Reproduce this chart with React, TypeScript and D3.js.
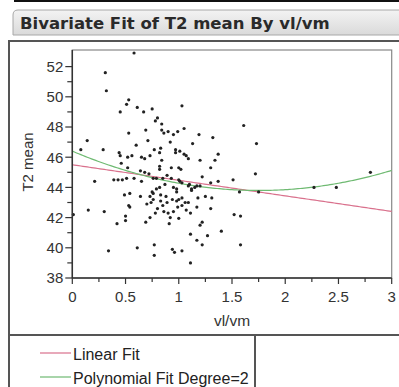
import * as d3 from "d3"

// values
const vlvm = [
  0.58, 0.31, 0.32, 0.53, 0.51, 0.61, 0.75, 0.67, 0.45, 1.03, 0.80, 0.78, 0.84, 1.61, 1.05, 0.84, 0.86, 0.69, 0.53, 0.90,
  0.95, 0.99, 1.19, 1.32, 0.14, 0.71, 0.60, 0.92, 1.13, 1.73, 0.77, 0.83, 0.82, 0.08, 0.29, 0.44, 0.45, 0.52, 0.56, 0.65,
  0.68, 0.73, 0.84, 0.97, 1.01, 1.05, 1.07, 1.09, 0.97, 1.37, 1.20, 1.34, 1.30, 0.46, 0.52, 0.82, 0.82, 0.93, 1.00, 1.02,
  0.64, 0.68, 0.72, 0.89, 1.22, 1.30, 1.37, 1.51, 1.72, 0.39, 0.43, 0.47, 0.51, 0.58, 0.65, 0.76, 0.79, 0.85, 0.93, 1.00,
  0.21, 1.03, 1.10, 1.17, 0.87, 0.95, 0.79, 0.82, 0.98, 1.09, 1.12, 1.15, 1.20, 1.12, 1.57, 1.75, 2.27, 2.48, 2.80, 0.98,
  0.49, 0.54, 0.64, 0.73, 0.76, 0.83, 0.88, 0.75, 0.94, 0.83, 0.76, 0.70, 0.98, 1.03, 1.00, 1.06, 1.09, 1.18, 1.25, 1.31,
  0.53, 0.54, 0.74, 0.80, 0.85, 0.89, 0.86, 0.90, 0.95, 0.99, 1.03, 1.07, 1.17, 1.11, 1.30, 1.52, 1.58, 0.01, 0.15, 0.30,
  0.42, 0.50, 0.50, 0.69, 0.73, 0.78, 0.92, 0.91, 1.00, 1.20, 1.22, 1.11, 1.27, 1.40, 1.17, 1.22, 1.58, 0.34, 0.61, 0.77,
  0.77, 0.94, 0.96, 1.03, 1.11, 1.01,
]
const t2mean = [
  52.9, 51.6, 50.4, 49.8, 49.5, 49.3, 49.2, 49.0, 49.0, 49.4, 48.6, 48.4, 48.2, 48.1, 47.9, 47.8, 47.6, 47.8, 47.6, 47.7,
  47.5, 47.7, 47.5, 47.3, 47.1, 47.1, 46.8, 47.0, 46.9, 46.9, 46.5, 46.6, 46.3, 46.5, 46.5, 46.3, 46.1, 46.0, 46.1, 46.0,
  45.9, 46.1, 45.8, 46.3, 46.4, 46.2, 46.1, 45.9, 46.5, 46.2, 45.8, 45.8, 45.3, 45.6, 45.3, 45.4, 45.2, 45.3, 45.3, 45.2,
  45.1, 45.0, 44.9, 44.8, 44.7, 44.3, 44.4, 44.5, 44.9, 44.5, 44.5, 44.5, 44.6, 44.6, 44.4, 44.6, 44.6, 44.6, 44.6, 44.5,
  44.4, 44.3, 44.2, 44.1, 44.2, 44.0, 43.9, 44.0, 43.9, 44.1, 43.9, 44.0, 44.1, 43.8, 43.7, 43.7, 44.0, 44.0, 45.0, 43.7,
  43.5, 43.6, 43.4, 43.4, 43.6, 43.5, 43.4, 43.7, 43.2, 43.1, 43.2, 42.9, 43.1, 43.3, 43.2, 43.0, 43.0, 43.3, 43.4, 43.3,
  42.8, 42.7, 43.0, 42.6, 42.8, 43.0, 42.4, 42.3, 42.4, 42.7, 42.8, 42.5, 42.7, 42.3, 42.6, 42.2, 42.1, 42.2, 42.5, 42.4,
  41.6, 42.1, 41.8, 41.7, 42.0, 42.3, 42.0, 41.6, 41.95, 41.5, 41.7, 40.9, 40.8, 41.1, 40.5, 40.2, 40.2, 39.8, 40.0, 40.2,
  39.5, 39.9, 39.7, 39.8, 39.0, 44.4,
]

const xTicks = [0, 0.5, 1, 1.5, 2, 2.5, 3]
const xTickLabels = ["0", "0.5", "1", "1.5", "2", "2.5", "3"]
const yTicks = [38, 40, 42, 44, 46, 48, 50, 52]

// fitted curves (coefficients)
const linearFit = [45.5, -1.03]
const polyFit = [46.4, -2.975, 0.85]

const legendItems = [
  { label: "Linear Fit", color: "#d9708c" },
  { label: "Polynomial Fit Degree=2", color: "#6fba72" },
]

const W = 399
const H = 387
const font = "'Liberation Sans', Arial, sans-serif"

export default function App() {
  const x = d3.scaleLinear().domain([0, 3]).range([72.3, 391.7])
  const y = d3.scaleLinear().domain([38, 53.1]).range([278, 50])

  const xMinor = d3.range(0.25, 3, 0.5)
  const yMinor = d3.range(39, 53, 2)

  const grid = d3.range(0, 3.001, 0.02)
  const linPath = d3.line<number>()
    .x(d => x(d))
    .y(d => y(linearFit[0] + linearFit[1] * d))(grid) || ""
  const polyPath = d3.line<number>()
    .x(d => x(d))
    .y(d => y(polyFit[0] + polyFit[1] * d + polyFit[2] * d * d))(grid) || ""

  return (
    <svg width={W} height={H} style={{ position: "absolute", left: 0, top: 0, background: "#fff" }}>
      <defs>
        <linearGradient id="hdr" x1="0" y1="0" x2="0" y2="1">
          <stop offset="0" stopColor="#f3f3f3" />
          <stop offset="1" stopColor="#dadada" />
        </linearGradient>
      </defs>

      {/* top strip */}
      <rect x={14} y={0} width={W} height={2} fill="#111" />

      {/* header */}
      <path d={`M${W + 2},10 H18 Q13,10 13,15 V35 H${W + 2}`} fill="url(#hdr)" stroke="#a8a8a8" />
      <text x={20} y={29} fontFamily="'DejaVu Sans', Verdana, sans-serif" fontWeight="bold" fontSize={16.5} fill="#2a2a2a">
        Bivariate Fit of T2 mean By vl/vm
      </text>

      {/* outer panel */}
      <path d={`M9,${H} V41 H${W + 2}`} fill="none" stroke="#555" strokeWidth={2} />
      <line x1={9} x2={W} y1={335} y2={335} stroke="#555" strokeWidth={2} />
      <line x1={255} x2={255} y1={335} y2={H} stroke="#555" strokeWidth={2} />

      {/* plot frame */}
      <rect x={x(0)} y={y(53.1)} width={x(3) - x(0)} height={y(38) - y(53.1)} fill="#fff" stroke="#888" strokeWidth={1.2} />

      {/* fit curves */}
      <path d={linPath} fill="none" stroke={legendItems[0].color} strokeWidth={1.2} />
      <path d={polyPath} fill="none" stroke={legendItems[1].color} strokeWidth={1.2} />

      {/* points */}
      {vlvm.map((v, i) => (
        <circle key={i} cx={x(v)} cy={y(t2mean[i])} r={1.6} fill="#222" />
      ))}

      {/* y axis */}
      <line x1={x(0)} x2={x(0)} y1={y(53.1)} y2={y(38)} stroke="#333" strokeWidth={1.5} />
      {yTicks.map(t => (
        <g key={t}>
          <line x1={x(0) - 7} x2={x(0)} y1={y(t)} y2={y(t)} stroke="#333" strokeWidth={1.2} />
          <text x={x(0) - 9} y={y(t)} dy="0.36em" textAnchor="end" fontFamily={font} fontSize={15} fill="#333">{t}</text>
        </g>
      ))}
      {yMinor.map(t => (
        <line key={t} x1={x(0) - 5} x2={x(0)} y1={y(t)} y2={y(t)} stroke="#333" strokeWidth={1.2} />
      ))}
      <text transform={`translate(33,162) rotate(-90)`} textAnchor="middle" fontFamily={font} fontSize={15} fill="#333">
        T2 mean
      </text>

      {/* x axis */}
      <line x1={x(0)} x2={x(3)} y1={y(38)} y2={y(38)} stroke="#333" strokeWidth={1.5} />
      {xTicks.map((t, i) => (
        <g key={t}>
          <line x1={x(t)} x2={x(t)} y1={y(38)} y2={y(38) + 6} stroke="#333" strokeWidth={1.2} />
          <text x={x(t)} y={302} textAnchor="middle" fontFamily={font} fontSize={15} fill="#333">{xTickLabels[i]}</text>
        </g>
      ))}
      {xMinor.map(t => (
        <line key={t} x1={x(t)} x2={x(t)} y1={y(38)} y2={y(38) + 4} stroke="#333" strokeWidth={1.2} />
      ))}
      <text x={(x(0) + x(3)) / 2} y={326} textAnchor="middle" fontFamily={font} fontSize={15.5} fill="#333">vl/vm</text>

      {/* legend */}
      {legendItems.map((d, i) => (
        <g key={d.label} transform={`translate(40,${353 + i * 24})`}>
          <line x1={0} x2={31} y1={0} y2={0} stroke={d.color} strokeWidth={1.2} />
          <text x={33} y={0} dy="0.42em" fontFamily={font} fontSize={16} fill="#222">{d.label}</text>
        </g>
      ))}
    </svg>
  )
}
